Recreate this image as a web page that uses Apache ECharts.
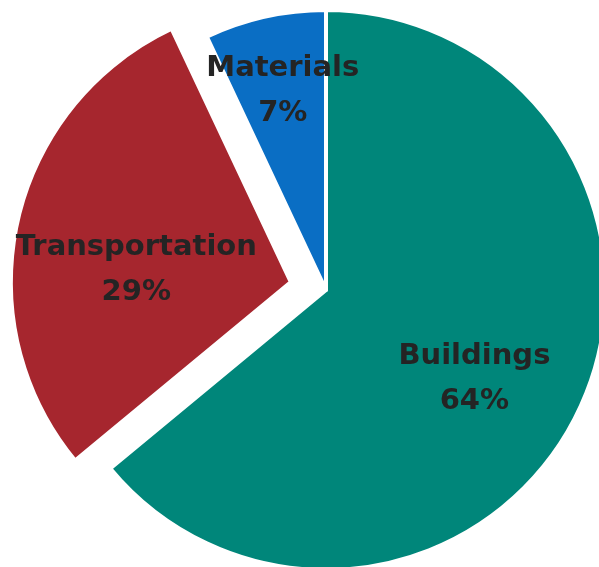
<!DOCTYPE html>
<html>
<head>
<meta charset="utf-8">
<script src="https://cdn.jsdelivr.net/npm/echarts@6/dist/echarts.min.js"></script>
<style>html,body{margin:0;padding:0;background:#fff}#c{width:599px;height:567px}</style>
</head>
<body>
<div id="c"></div>
<script>
const categories = ['Buildings', 'Transportation', 'Materials'];
const values = [64, 29, 7];
const colors = ['#00867A', '#A6262E', '#0A6EC4'];
const exploded = [false, true, false];
const labelShift = [[19, 28], [-15, 19], [-12, -59]];

const chart = echarts.init(document.getElementById('c'), null, {renderer: 'canvas'});
const data = categories.map((name, i) => ({
  name: name,
  value: values[i],
  selected: exploded[i],
  itemStyle: {color: colors[i]}
}));
chart.setOption({
  animation: false,
  series: [{
    type: 'pie',
    center: [326, 290],
    radius: [0, 280],
    startAngle: 90,
    clockwise: true,
    selectedMode: 'single',
    selectedOffset: 36,
    avoidLabelOverlap: false,
    itemStyle: {borderColor: '#ffffff', borderWidth: 4},
    emphasis: {disabled: true},
    label: {
      show: true,
      position: 'inside',
      formatter: '{b}\n{d}%',
      fontFamily: 'DejaVu Sans',
      fontWeight: 'bold',
      fontSize: 29,
      lineHeight: 45,
      color: '#242424'
    },
    labelLine: {show: false},
    labelLayout: function (p) {
      const s = labelShift[p.dataIndex];
      return {dx: s[0], dy: s[1]};
    },
    data: data
  }]
});
</script>
</body>
</html>
